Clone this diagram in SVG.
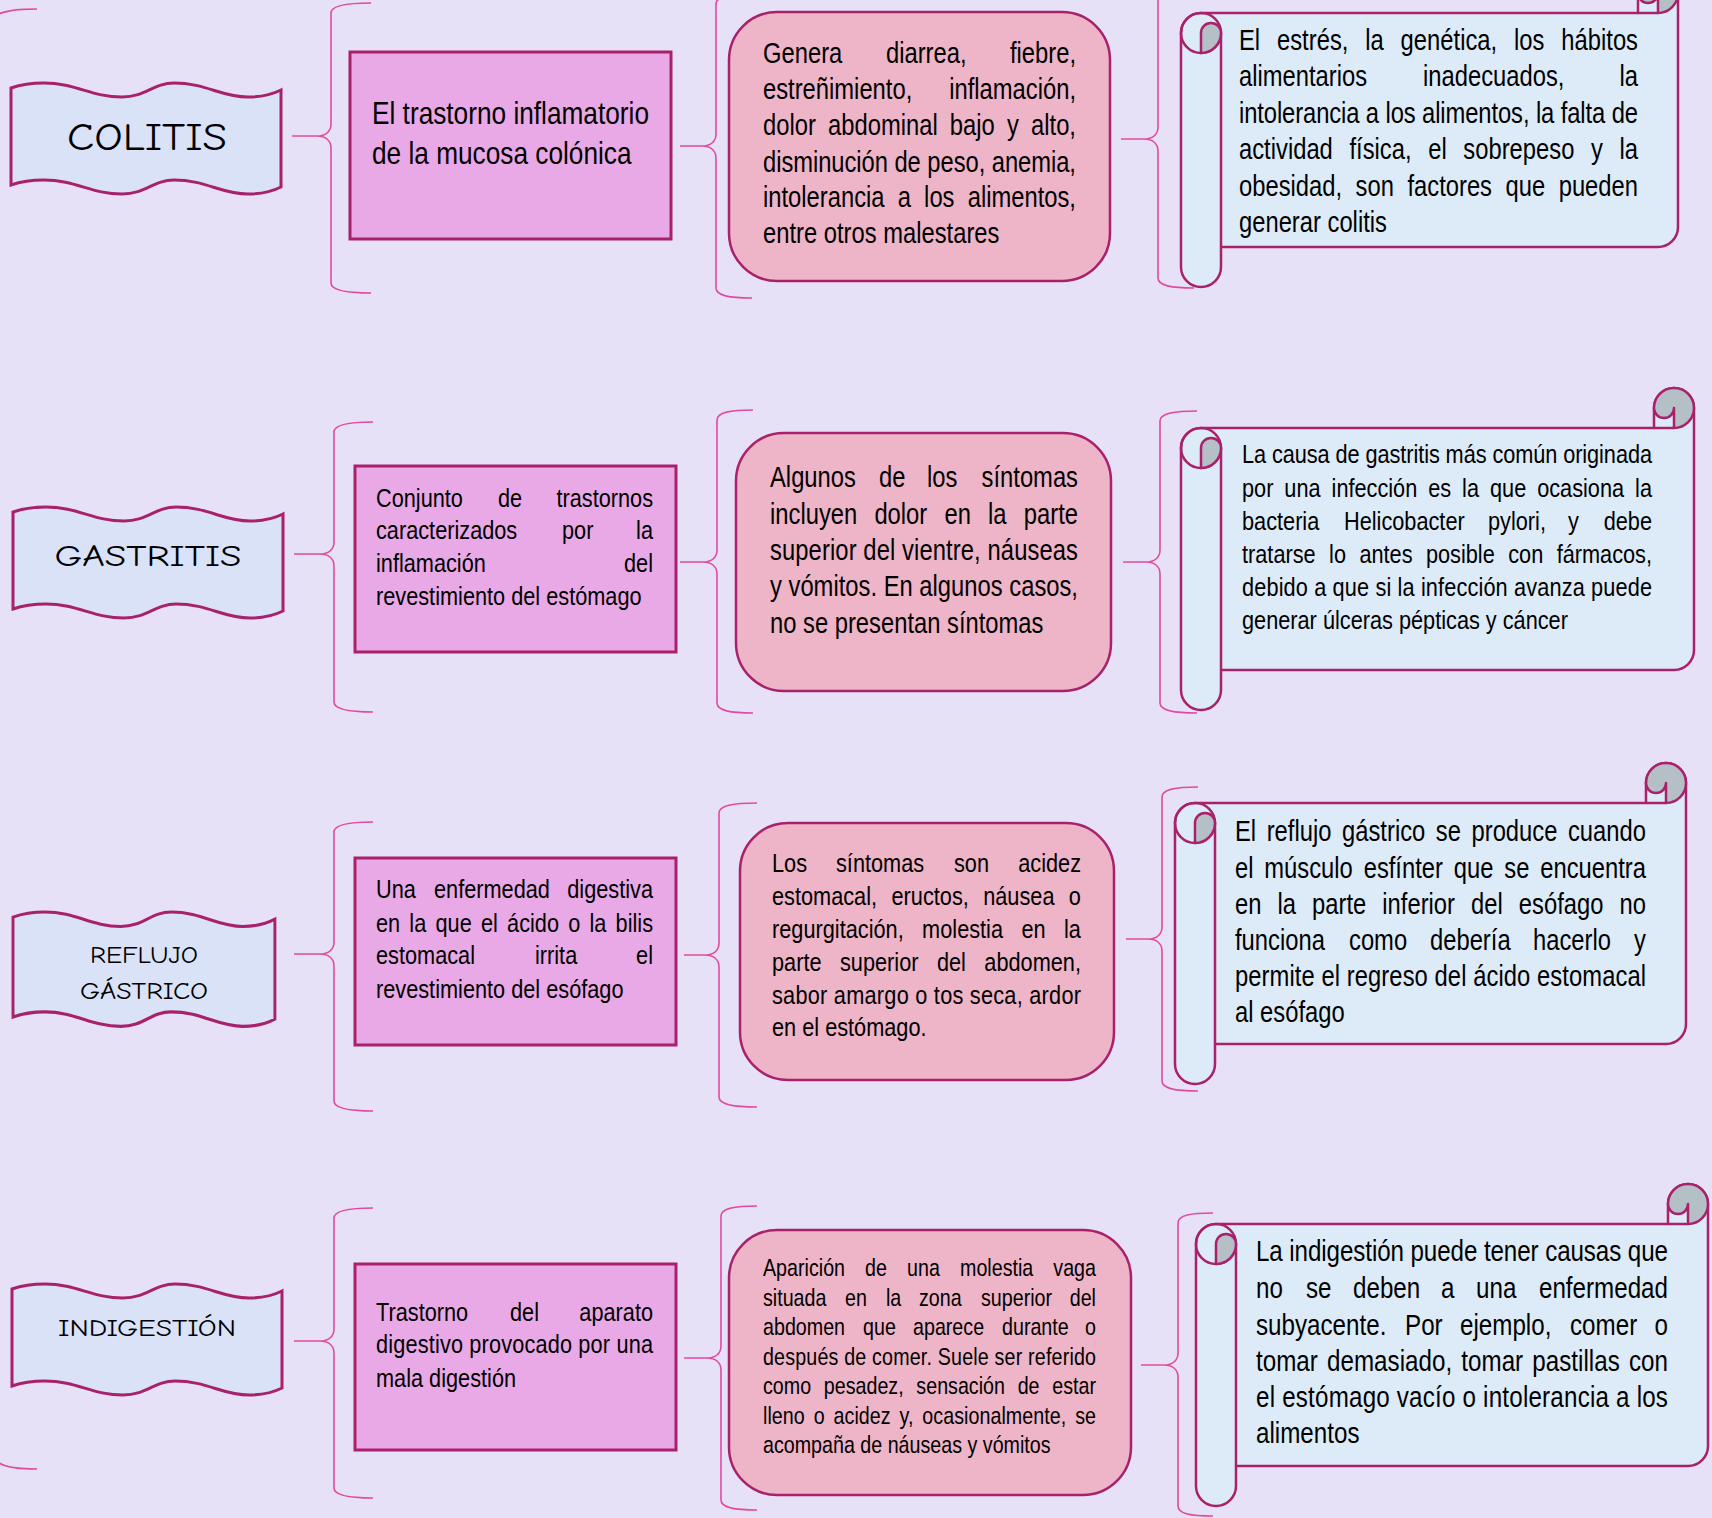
<svg xmlns="http://www.w3.org/2000/svg" xmlns:xlink="http://www.w3.org/1999/xlink" width="1712" height="1518" viewBox="0 0 1712 1518">
<defs>
<style>
.bg{fill:#E7E1F7}
.banner{fill:#DAE2F8;stroke:#A9216B;stroke-width:3}
.def{fill:#E9A9E6;stroke:#A9216B;stroke-width:3}
.sym{fill:#EEB4C7;stroke:#A9216B;stroke-width:2.5}
.scr{fill:#DCEBF7;stroke:#A9216B;stroke-width:2.5;stroke-linejoin:round}
.ln{fill:none;stroke:#A9216B;stroke-width:2.5}
.curl{fill:#B5BFC6;stroke:#A9216B;stroke-width:2.5;stroke-linejoin:round}
.br{fill:none;stroke:#E24A9E;stroke-width:1.6}
.title{font-family:"Comic Sans MS","Comic Neue","DejaVu Sans",sans-serif;fill:#000;text-anchor:middle}
.tx{font-family:"Liberation Sans","Arial",sans-serif;fill:#000}
.e{text-anchor:end}
.f32{font-size:32px}
.f29{font-size:29px}
.f295{font-size:29.5px}
.f265{font-size:26.5px}
.f24{font-size:24px}
</style>
<path id="wave" d="M0,5 C10,1.5 22,0 33,0 C65,0 80,14 111,14 C135,14 142,0 163,0 C195,0 210,14 237,14 C250,14 262,11 270,7 L270,104 C262,108 250,111 237,111 C210,111 195,97 163,97 C142,97 135,111 111,111 C80,111 65,97 33,97 C22,97 10,98.5 0,102 Z"/>
</defs>
<rect class="bg" x="0" y="0" width="1712" height="1518"/>

<g id="connectors">
<path class="br" d="M-4,16 C0,12 15,9 37,9"/>
<path class="br" d="M-4,1460 C0,1466 15,1469 37,1469"/>
<path class="br" d="M371,3 C349,3 331,5 331,13 L331,124 C331,132 325,136 317,136 L292,136 M317,136 C325,136 331,140 331,148 L331,283 C331,291 349,293 371,293"/>
<path class="br" d="M373,422 C351,422 334,424 334,432 L334,542 C334,550 328,554 320,554 L294,554 M320,554 C328,554 334,558 334,566 L334,702 C334,710 351,712 373,712"/>
<path class="br" d="M373,822 C351,822 334,824 334,832 L334,942 C334,950 328,954 320,954 L294,954 M320,954 C328,954 334,958 334,966 L334,1101 C334,1109 351,1111 373,1111"/>
<path class="br" d="M373,1208 C351,1208 334,1210 334,1218 L334,1329 C334,1337 328,1341 320,1341 L294,1341 M320,1341 C328,1341 334,1345 334,1353 L334,1488 C334,1496 351,1498 373,1498"/>
<path class="br" d="M752,-6 C730,-6 716,-4 716,4 L716,134 C716,142 710,146 702,146 L680,146 M702,146 C710,146 716,150 716,158 L716,288 C716,296 730,298 752,298"/>
<path class="br" d="M753,410 C731,410 717,412 717,420 L717,550 C717,558 711,562 703,562 L680,562 M703,562 C711,562 717,566 717,574 L717,703 C717,711 731,713 753,713"/>
<path class="br" d="M757,803 C735,803 719,805 719,813 L719,943 C719,951 713,955 705,955 L684,955 M705,955 C713,955 719,959 719,967 L719,1097 C719,1105 735,1107 757,1107"/>
<path class="br" d="M757,1206 C735,1206 721,1208 721,1216 L721,1346 C721,1354 715,1358 707,1358 L684,1358 M707,1358 C715,1358 721,1362 721,1370 L721,1500 C721,1508 735,1510 757,1510"/>
<path class="br" d="M1194,-10 C1172,-10 1158,-8 1158,0 L1158,127 C1158,135 1152,139 1144,139 L1121,139 M1144,139 C1152,139 1158,143 1158,151 L1158,278 C1158,286 1172,288 1194,288"/>
<path class="br" d="M1197,411 C1175,411 1160,413 1160,421 L1160,550 C1160,558 1154,562 1146,562 L1123,562 M1146,562 C1154,562 1160,566 1160,574 L1160,703 C1160,711 1175,713 1197,713"/>
<path class="br" d="M1198,787 C1176,787 1162,789 1162,797 L1162,927 C1162,935 1156,939 1148,939 L1126,939 M1148,939 C1156,939 1162,943 1162,951 L1162,1081 C1162,1089 1176,1091 1198,1091"/>
<path class="br" d="M1213,1213 C1191,1213 1178,1215 1178,1223 L1178,1353 C1178,1361 1172,1365 1164,1365 L1141,1365 M1164,1365 C1172,1365 1178,1369 1178,1377 L1178,1506 C1178,1514 1191,1516 1213,1516"/>
</g>

<!-- Row 1: COLITIS -->
<g id="title-colitis">
<use xlink:href="#wave" class="banner" transform="translate(11,83)"/>
<text class="title" x="147" y="150" font-size="38" textLength="160" lengthAdjust="spacingAndGlyphs">COLITIS</text>
</g>
<g id="def-colitis">
<rect class="def" x="350" y="52" width="321" height="187"/>
<text class="tx f32" transform="matrix(.82 0 0 1 372 124)">El trastorno inflamatorio</text>
<text class="tx f32" transform="matrix(.82 0 0 1 372 164)">de la mucosa colónica</text>
</g>
<g id="sym-colitis">
<rect class="sym" x="729" y="12" width="381" height="269" rx="48" ry="48"/>
<text class="tx f29" transform="matrix(.82 0 0 1 763 63)">Genera</text>
<text class="tx f29" transform="matrix(.82 0 0 1 886 63)">diarrea,</text>
<text class="tx f29 e" transform="matrix(.82 0 0 1 1076 63)">fiebre,</text>
<text class="tx f29" transform="matrix(.82 0 0 1 763 99)">estreñimiento,</text>
<text class="tx f29 e" transform="matrix(.82 0 0 1 1076 99)">inflamación,</text>
<text class="tx f29" transform="matrix(.82 0 0 1 763 135)" word-spacing="6.8" textLength="381.7" lengthAdjust="spacing">dolor abdominal bajo y alto,</text>
<text class="tx f29" transform="matrix(.82 0 0 1 763 172)" textLength="381.7" lengthAdjust="spacing">disminución de peso, anemia,</text>
<text class="tx f29" transform="matrix(.82 0 0 1 763 207)" word-spacing="8" textLength="381.7" lengthAdjust="spacing">intolerancia a los alimentos,</text>
<text class="tx f29" transform="matrix(.82 0 0 1 763 243)">entre otros malestares</text>
</g>
<g id="cause-colitis">
<g transform="translate(1181,-27)">
<path class="scr" d="M457,40 L457,20 A20,20 0 0 1 497,20 L497,254 A20,20 0 0 1 477,274 L40,274 L40,294 A20,20 0 0 1 0,294 L0,60 A20,20 0 0 1 20,40 Z"/>
<path class="ln" d="M40,60 L40,274 M457,40 L477,40"/>
<circle class="ln" cx="20" cy="60" r="20"/>
<path class="curl" d="M20,80 L20,60 A10,10 0 0 1 40,60 A20,20 0 0 1 20,80 Z"/>
<path class="curl" d="M457,20 A20,20 0 0 1 497,20 A20,20 0 0 1 477,40 L477,20 A10,10 0 0 1 457,20 Z"/>
</g>
<text class="tx f29" transform="matrix(.82 0 0 1 1239 50)" word-spacing="12.5" textLength="486.6" lengthAdjust="spacing">El estrés, la genética, los hábitos</text>
<text class="tx f29" transform="matrix(.82 0 0 1 1239 86)">alimentarios</text>
<text class="tx f29" transform="matrix(.82 0 0 1 1423 86)">inadecuados,</text>
<text class="tx f29 e" transform="matrix(.82 0 0 1 1638 86)">la</text>
<text class="tx f29" transform="matrix(.82 0 0 1 1239 123)" textLength="486.6" lengthAdjust="spacing">intolerancia a los alimentos, la falta de</text>
<text class="tx f29" transform="matrix(.82 0 0 1 1239 159)" word-spacing="12.2" textLength="486.6" lengthAdjust="spacing">actividad física, el sobrepeso y la</text>
<text class="tx f29" transform="matrix(.82 0 0 1 1239 196)" word-spacing="8.4" textLength="486.6" lengthAdjust="spacing">obesidad, son factores que pueden</text>
<text class="tx f29" transform="matrix(.82 0 0 1 1239 232)">generar colitis</text>
</g>

<!-- Row 2: GASTRITIS -->
<g id="title-gastritis">
<use xlink:href="#wave" class="banner" transform="translate(13,507)"/>
<text class="title" x="148" y="566" font-size="31" textLength="187" lengthAdjust="spacingAndGlyphs">GASTRITIS</text>
</g>
<g id="def-gastritis">
<rect class="def" x="355" y="466" width="321" height="186"/>
<text class="tx f265" transform="matrix(.82 0 0 1 376 507)">Conjunto</text>
<text class="tx f265" transform="matrix(.82 0 0 1 498 507)">de</text>
<text class="tx f265 e" transform="matrix(.82 0 0 1 653 507)">trastornos</text>
<text class="tx f265" transform="matrix(.82 0 0 1 376 539)">caracterizados</text>
<text class="tx f265" transform="matrix(.82 0 0 1 562 539)">por</text>
<text class="tx f265 e" transform="matrix(.82 0 0 1 653 539)">la</text>
<text class="tx f265" transform="matrix(.82 0 0 1 376 572)">inflamación</text>
<text class="tx f265 e" transform="matrix(.82 0 0 1 653 572)">del</text>
<text class="tx f265" transform="matrix(.82 0 0 1 376 605)">revestimiento del estómago</text>
</g>
<g id="sym-gastritis">
<rect class="sym" x="736" y="433" width="375" height="258" rx="48" ry="48"/>
<text class="tx f29" transform="matrix(.82 0 0 1 770 487)">Algunos</text>
<text class="tx f29" transform="matrix(.82 0 0 1 879 487)">de</text>
<text class="tx f29" transform="matrix(.82 0 0 1 927 487)">los</text>
<text class="tx f29 e" transform="matrix(.82 0 0 1 1078 487)">síntomas</text>
<text class="tx f29" transform="matrix(.82 0 0 1 770 524)" word-spacing="12.9" textLength="375.6" lengthAdjust="spacing">incluyen dolor en la parte</text>
<text class="tx f29" transform="matrix(.82 0 0 1 770 560)" textLength="375.6" lengthAdjust="spacing">superior del vientre, náuseas</text>
<text class="tx f29" transform="matrix(.82 0 0 1 770 596)" textLength="375.6" lengthAdjust="spacing">y vómitos. En algunos casos,</text>
<text class="tx f29" transform="matrix(.82 0 0 1 770 633)">no se presentan síntomas</text>
</g>
<g id="cause-gastritis">
<g transform="translate(1181,388)">
<path class="scr" d="M473,40 L473,20 A20,20 0 0 1 513,20 L513,262 A20,20 0 0 1 493,282 L40,282 L40,302 A20,20 0 0 1 0,302 L0,60 A20,20 0 0 1 20,40 Z"/>
<path class="ln" d="M40,60 L40,282 M473,40 L493,40"/>
<circle class="ln" cx="20" cy="60" r="20"/>
<path class="curl" d="M20,80 L20,60 A10,10 0 0 1 40,60 A20,20 0 0 1 20,80 Z"/>
<path class="curl" d="M473,20 A20,20 0 0 1 513,20 A20,20 0 0 1 493,40 L493,20 A10,10 0 0 1 473,20 Z"/>
</g>
<text class="tx f265" transform="matrix(.82 0 0 1 1242 463)" textLength="500" lengthAdjust="spacing">La causa de gastritis más común originada</text>
<text class="tx f265" transform="matrix(.82 0 0 1 1242 497)" word-spacing="6" textLength="500" lengthAdjust="spacing">por una infección es la que ocasiona la</text>
<text class="tx f265" transform="matrix(.82 0 0 1 1242 530)">bacteria</text>
<text class="tx f265" transform="matrix(.82 0 0 1 1344 530)">Helicobacter</text>
<text class="tx f265" transform="matrix(.82 0 0 1 1488 530)">pylori,</text>
<text class="tx f265" transform="matrix(.82 0 0 1 1568 530)">y</text>
<text class="tx f265 e" transform="matrix(.82 0 0 1 1652 530)">debe</text>
<text class="tx f265" transform="matrix(.82 0 0 1 1242 563)" word-spacing="9" textLength="500" lengthAdjust="spacing">tratarse lo antes posible con fármacos,</text>
<text class="tx f265" transform="matrix(.82 0 0 1 1242 596)" textLength="500" lengthAdjust="spacing">debido a que si la infección avanza puede</text>
<text class="tx f265" transform="matrix(.82 0 0 1 1242 629)">generar úlceras pépticas y cáncer</text>
</g>

<!-- Row 3: REFLUJO GASTRICO -->
<g id="title-reflujo">
<use xlink:href="#wave" class="banner" transform="translate(13,912) scale(0.97,1.03)"/>
<text class="title" x="144" y="963" font-size="24" textLength="108" lengthAdjust="spacingAndGlyphs">REFLUJO</text>
<text class="title" x="144" y="999" font-size="24" textLength="128" lengthAdjust="spacingAndGlyphs">GÁSTRICO</text>
</g>
<g id="def-reflujo">
<rect class="def" x="355" y="858" width="321" height="187"/>
<text class="tx f265" transform="matrix(.82 0 0 1 376 898)">Una</text>
<text class="tx f265" transform="matrix(.82 0 0 1 434 898)">enfermedad</text>
<text class="tx f265 e" transform="matrix(.82 0 0 1 653 898)">digestiva</text>
<text class="tx f265" transform="matrix(.82 0 0 1 376 932)" word-spacing="3.9" textLength="337.8" lengthAdjust="spacing">en la que el ácido o la bilis</text>
<text class="tx f265" transform="matrix(.82 0 0 1 376 964)">estomacal</text>
<text class="tx f265" transform="matrix(.82 0 0 1 535 964)">irrita</text>
<text class="tx f265 e" transform="matrix(.82 0 0 1 653 964)">el</text>
<text class="tx f265" transform="matrix(.82 0 0 1 376 998)">revestimiento del esófago</text>
</g>
<g id="sym-reflujo">
<rect class="sym" x="740" y="823" width="374" height="257" rx="48" ry="48"/>
<text class="tx f265" transform="matrix(.82 0 0 1 772 872)">Los</text>
<text class="tx f265" transform="matrix(.82 0 0 1 836 872)">síntomas</text>
<text class="tx f265" transform="matrix(.82 0 0 1 954 872)">son</text>
<text class="tx f265 e" transform="matrix(.82 0 0 1 1081 872)">acidez</text>
<text class="tx f265" transform="matrix(.82 0 0 1 772 905)" word-spacing="10.2" textLength="376.8" lengthAdjust="spacing">estomacal, eructos, náusea o</text>
<text class="tx f265" transform="matrix(.82 0 0 1 772 938)" word-spacing="15.1" textLength="376.8" lengthAdjust="spacing">regurgitación, molestia en la</text>
<text class="tx f265" transform="matrix(.82 0 0 1 772 971)" word-spacing="15.1" textLength="376.8" lengthAdjust="spacing">parte superior del abdomen,</text>
<text class="tx f265" transform="matrix(.82 0 0 1 772 1004)" textLength="376.8" lengthAdjust="spacing">sabor amargo o tos seca, ardor</text>
<text class="tx f265" transform="matrix(.82 0 0 1 772 1036)">en el estómago.</text>
</g>
<g id="cause-reflujo">
<g transform="translate(1175,763)">
<path class="scr" d="M471,40 L471,20 A20,20 0 0 1 511,20 L511,261 A20,20 0 0 1 491,281 L40,281 L40,301 A20,20 0 0 1 0,301 L0,60 A20,20 0 0 1 20,40 Z"/>
<path class="ln" d="M40,60 L40,281 M471,40 L491,40"/>
<circle class="ln" cx="20" cy="60" r="20"/>
<path class="curl" d="M20,80 L20,60 A10,10 0 0 1 40,60 A20,20 0 0 1 20,80 Z"/>
<path class="curl" d="M471,20 A20,20 0 0 1 511,20 A20,20 0 0 1 491,40 L491,20 A10,10 0 0 1 471,20 Z"/>
</g>
<text class="tx f29" transform="matrix(.82 0 0 1 1235 841)" word-spacing="4.8" textLength="501.2" lengthAdjust="spacing">El reflujo gástrico se produce cuando</text>
<text class="tx f29" transform="matrix(.82 0 0 1 1235 878)" word-spacing="5.1" textLength="501.2" lengthAdjust="spacing">el músculo esfínter que se encuentra</text>
<text class="tx f29" transform="matrix(.82 0 0 1 1235 914)" word-spacing="11.5" textLength="501.2" lengthAdjust="spacing">en la parte inferior del esófago no</text>
<text class="tx f29" transform="matrix(.82 0 0 1 1235 950)">funciona</text>
<text class="tx f29" transform="matrix(.82 0 0 1 1349 950)">como</text>
<text class="tx f29" transform="matrix(.82 0 0 1 1430 950)">debería</text>
<text class="tx f29" transform="matrix(.82 0 0 1 1533 950)">hacerlo</text>
<text class="tx f29 e" transform="matrix(.82 0 0 1 1646 950)">y</text>
<text class="tx f29" transform="matrix(.82 0 0 1 1235 986)" textLength="501.2" lengthAdjust="spacing">permite el regreso del ácido estomacal</text>
<text class="tx f29" transform="matrix(.82 0 0 1 1235 1022)">al esófago</text>
</g>

<!-- Row 4: INDIGESTION -->
<g id="title-indigestion">
<use xlink:href="#wave" class="banner" transform="translate(12,1284)"/>
<text class="title" x="147" y="1336" font-size="24" textLength="178" lengthAdjust="spacingAndGlyphs">INDIGESTIÓN</text>
</g>
<g id="def-indigestion">
<rect class="def" x="355" y="1264" width="321" height="186"/>
<text class="tx f265" transform="matrix(.82 0 0 1 376 1321)">Trastorno</text>
<text class="tx f265" transform="matrix(.82 0 0 1 510 1321)">del</text>
<text class="tx f265 e" transform="matrix(.82 0 0 1 653 1321)">aparato</text>
<text class="tx f265" transform="matrix(.82 0 0 1 376 1353)" textLength="337.8" lengthAdjust="spacing">digestivo provocado por una</text>
<text class="tx f265" transform="matrix(.82 0 0 1 376 1387)">mala digestión</text>
</g>
<g id="sym-indigestion">
<rect class="sym" x="729" y="1230" width="402" height="265" rx="48" ry="48"/>
<text class="tx f24" transform="matrix(.82 0 0 1 763 1276)">Aparición</text>
<text class="tx f24" transform="matrix(.82 0 0 1 865 1276)">de</text>
<text class="tx f24" transform="matrix(.82 0 0 1 907 1276)">una</text>
<text class="tx f24" transform="matrix(.82 0 0 1 960 1276)">molestia</text>
<text class="tx f24 e" transform="matrix(.82 0 0 1 1096 1276)">vaga</text>
<text class="tx f24" transform="matrix(.82 0 0 1 763 1306)">situada</text>
<text class="tx f24" transform="matrix(.82 0 0 1 845 1306)">en</text>
<text class="tx f24" transform="matrix(.82 0 0 1 886 1306)">la</text>
<text class="tx f24" transform="matrix(.82 0 0 1 919 1306)">zona</text>
<text class="tx f24" transform="matrix(.82 0 0 1 981 1306)">superior</text>
<text class="tx f24 e" transform="matrix(.82 0 0 1 1096 1306)">del</text>
<text class="tx f24" transform="matrix(.82 0 0 1 763 1335)">abdomen</text>
<text class="tx f24" transform="matrix(.82 0 0 1 863 1335)">que</text>
<text class="tx f24" transform="matrix(.82 0 0 1 913 1335)">aparece</text>
<text class="tx f24" transform="matrix(.82 0 0 1 1002 1335)">durante</text>
<text class="tx f24 e" transform="matrix(.82 0 0 1 1096 1335)">o</text>
<text class="tx f24" transform="matrix(.82 0 0 1 763 1365)" textLength="406.1" lengthAdjust="spacing">después de comer. Suele ser referido</text>
<text class="tx f24" transform="matrix(.82 0 0 1 763 1394)" word-spacing="8.8" textLength="406.1" lengthAdjust="spacing">como pesadez, sensación de estar</text>
<text class="tx f24" transform="matrix(.82 0 0 1 763 1424)" word-spacing="4.1" textLength="406.1" lengthAdjust="spacing">lleno o acidez y, ocasionalmente, se</text>
<text class="tx f24" transform="matrix(.82 0 0 1 763 1453)">acompaña de náuseas y vómitos</text>
</g>
<g id="cause-indigestion">
<g transform="translate(1196,1184)">
<path class="scr" d="M472,40 L472,20 A20,20 0 0 1 512,20 L512,262 A20,20 0 0 1 492,282 L40,282 L40,302 A20,20 0 0 1 0,302 L0,60 A20,20 0 0 1 20,40 Z"/>
<path class="ln" d="M40,60 L40,282 M472,40 L492,40"/>
<circle class="ln" cx="20" cy="60" r="20"/>
<path class="curl" d="M20,80 L20,60 A10,10 0 0 1 40,60 A20,20 0 0 1 20,80 Z"/>
<path class="curl" d="M472,20 A20,20 0 0 1 512,20 A20,20 0 0 1 492,40 L492,20 A10,10 0 0 1 472,20 Z"/>
</g>
<text class="tx f295" transform="matrix(.82 0 0 1 1256 1261)" textLength="502.4" lengthAdjust="spacing">La indigestión puede tener causas que</text>
<text class="tx f295" transform="matrix(.82 0 0 1 1256 1298)">no</text>
<text class="tx f295" transform="matrix(.82 0 0 1 1306 1298)">se</text>
<text class="tx f295" transform="matrix(.82 0 0 1 1353 1298)">deben</text>
<text class="tx f295" transform="matrix(.82 0 0 1 1441 1298)">a</text>
<text class="tx f295" transform="matrix(.82 0 0 1 1476 1298)">una</text>
<text class="tx f295 e" transform="matrix(.82 0 0 1 1668 1298)">enfermedad</text>
<text class="tx f295" transform="matrix(.82 0 0 1 1256 1335)">subyacente.</text>
<text class="tx f295" transform="matrix(.82 0 0 1 1405 1335)">Por</text>
<text class="tx f295" transform="matrix(.82 0 0 1 1460 1335)">ejemplo,</text>
<text class="tx f295" transform="matrix(.82 0 0 1 1570 1335)">comer</text>
<text class="tx f295 e" transform="matrix(.82 0 0 1 1668 1335)">o</text>
<text class="tx f295" transform="matrix(.82 0 0 1 1256 1371)" word-spacing="3" textLength="502.4" lengthAdjust="spacing">tomar demasiado, tomar pastillas con</text>
<text class="tx f295" transform="matrix(.82 0 0 1 1256 1407)" textLength="502.4" lengthAdjust="spacing">el estómago vacío o intolerancia a los</text>
<text class="tx f295" transform="matrix(.82 0 0 1 1256 1443)">alimentos</text>
</g>
</svg>
